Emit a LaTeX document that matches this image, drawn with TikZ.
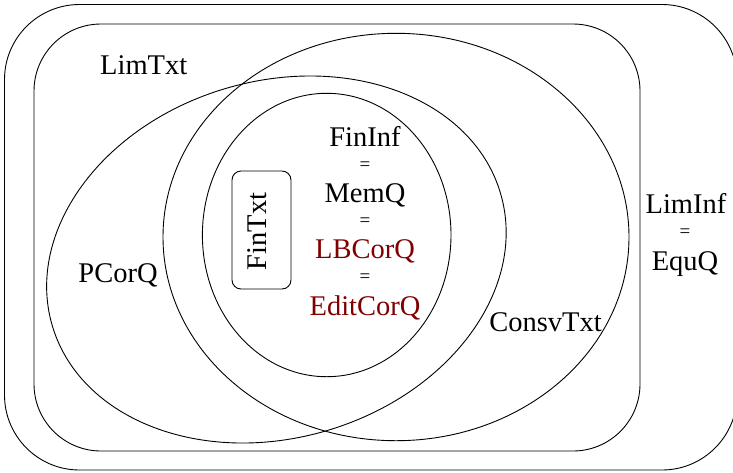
\documentclass[tikz,border=0pt]{standalone}
\usepackage{fontspec}
\setmainfont{Liberation Serif}
\definecolor{setred}{RGB}{128,0,0}
\begin{document}
\begin{tikzpicture}[x=1pt,y=-1pt,
  setline/.style={draw=black, line width=0.9pt},
  lbl/.style={font=\fontsize{28.5}{32}\selectfont, inner sep=0pt, anchor=base},
  redlbl/.style={lbl, text=setred},
  eqsign/.style={font=\fontsize{19}{22}\selectfont, inner sep=0pt, anchor=base}]
\useasboundingbox (0,0) rectangle (733,472);

% outer class LimInf = EquQ
\draw[setline, rounded corners=75pt] (4.5,4.5) rectangle (737,470);
% LimTxt
\draw[setline, rounded corners=67pt] (34,24) rectangle (640,451);
% ConsvTxt
\draw[setline] (396,237) ellipse [x radius=233pt, y radius=203.7pt];
% PCorQ (tilted)
\draw[setline, rotate around={16.5:(276.4,259.5)}] (276.4,259.5) ellipse [x radius=233.7pt, y radius=178.4pt];
% FinInf = MemQ = LBCorQ = EditCorQ
\draw[setline] (326.7,235) ellipse [x radius=124.3pt, y radius=141.7pt];

% FinTxt box
\node[setline, rounded corners=9pt, minimum width=59pt, minimum height=118pt, inner sep=0pt] (fintxt) at (261.5,230) {};
\node[lbl, anchor=center, rotate=90] (fintxtlabel) at (257.5,231.5) {FinTxt};

% labels
\node[lbl] (limtxt) at (143.7,74.3) {LimTxt};
\node[lbl] (pcorq) at (118,282) {PCorQ};
\node[lbl] (consvtxt) at (545.5,331.7) {ConsvTxt};

\node[lbl] (fininf) at (365,146.7) {FinInf};
\node[eqsign] (eqa) at (365,170.5) {=};
\node[lbl] (memq) at (365,202) {MemQ};
\node[eqsign] (eqb) at (365,226) {=};
\node[redlbl] (lbcorq) at (365,258.5) {LBCorQ};
\node[eqsign] (eqc) at (365,282.2) {=};
\node[redlbl] (editcorq) at (365,315) {EditCorQ};

\node[lbl] (liminf) at (686,213.3) {LimInf};
\node[eqsign] (eqd) at (685,237.2) {=};
\node[lbl] (equq) at (685,270) {EquQ};
\end{tikzpicture}
\end{document}
